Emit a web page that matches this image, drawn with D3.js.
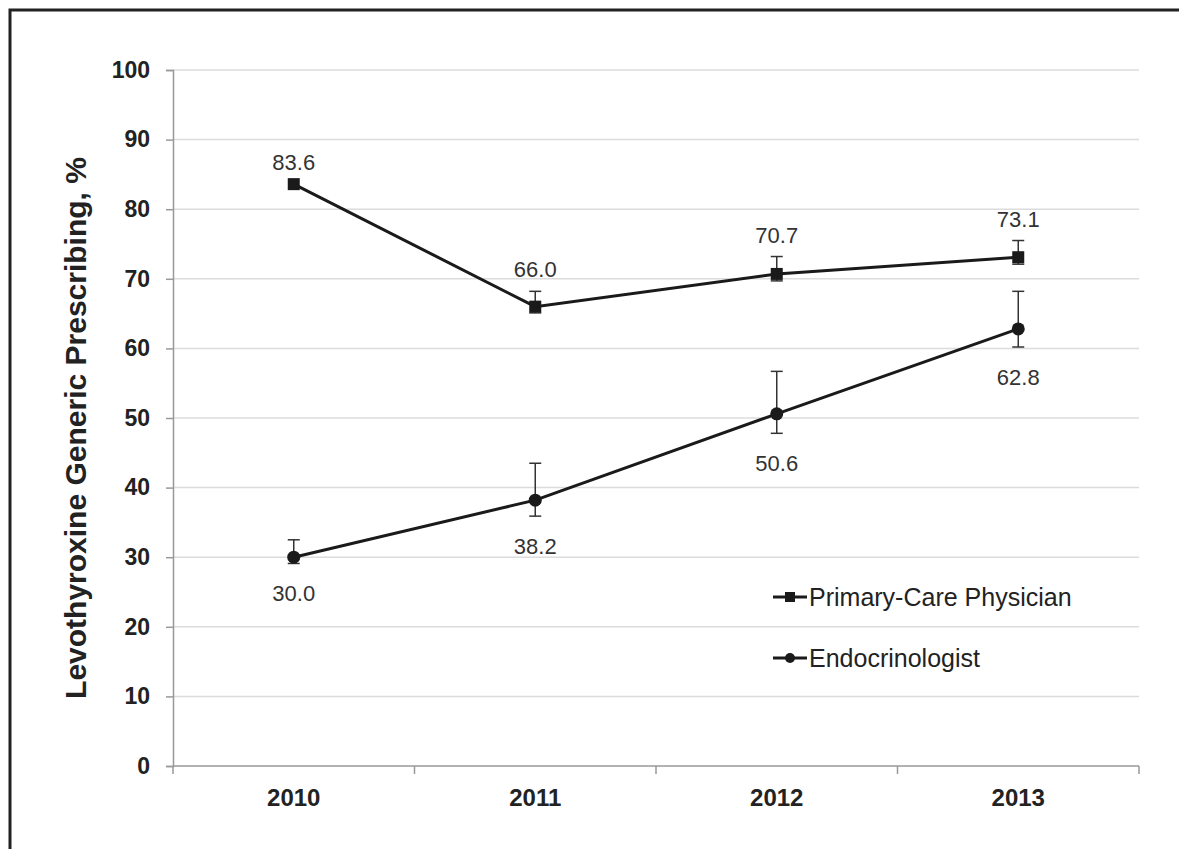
<!DOCTYPE html>
<html>
<head>
<meta charset="utf-8">
<script src="https://cdn.jsdelivr.net/npm/d3@7"></script>
<style>
  html, body { margin: 0; padding: 0; background: #fff; }
  svg { display: block; font-family: "Liberation Sans", Arial, sans-serif; }
</style>
</head>
<body>
<svg id="chart" width="1179" height="849"></svg>
<script>
// Levothyroxine generic prescribing by specialty, 2010-2013
const years = ["2010", "2011", "2012", "2013"];
const seriesNames = ["Primary-Care Physician", "Endocrinologist"];

const pcpValues = [83.6, 66.0, 70.7, 73.1];
const pcpLower  = [83.6, 65.1, 69.7, 72.1];
const pcpUpper  = [83.6, 68.2, 73.2, 75.5];

const endoValues = [30.0, 38.2, 50.6, 62.8];
const endoLower  = [29.1, 35.9, 47.8, 60.2];
const endoUpper  = [32.5, 43.5, 56.7, 68.2];

const yTicks = [0, 10, 20, 30, 40, 50, 60, 70, 80, 90, 100];

const svg = d3.select("#chart");
const W = 1179, H = 849;
const m = { left: 173, right: 1139, top: 70, bottom: 766 };

// outer frame (runs off the right and bottom edges)
svg.append("path")
  .attr("d", `M10,${H + 5} L10,10 L${W + 5},10`)
  .attr("fill", "none").attr("stroke", "#222").attr("stroke-width", 3);

const x = d3.scaleBand().domain(years).range([m.left, m.right]);
const y = d3.scaleLinear().domain([0, 100]).range([m.bottom, m.top]);

// horizontal gridlines
svg.append("g").selectAll("line").data(yTicks.filter(d => d > 0)).join("line")
  .attr("x1", m.left).attr("x2", m.right)
  .attr("y1", d => y(d)).attr("y2", d => y(d))
  .attr("stroke", "#dcdcdc").attr("stroke-width", 1.5);

// y axis
const yAxis = svg.append("g")
  .attr("transform", `translate(${m.left},0)`)
  .call(d3.axisLeft(y).tickValues(yTicks).tickSize(7).tickPadding(16));
yAxis.select(".domain").attr("stroke", "#999").attr("stroke-width", 1.5);
yAxis.selectAll(".tick line").attr("stroke", "#999").attr("stroke-width", 1.5);
yAxis.selectAll(".tick text")
  .attr("font-size", 23).attr("font-weight", "bold").attr("fill", "#222")
  .attr("font-family", "Liberation Sans, Arial, sans-serif");

// x axis with ticks at category boundaries
const xAxis = svg.append("g").attr("transform", `translate(0,${m.bottom})`);
xAxis.append("line")
  .attr("x1", m.left).attr("x2", m.right).attr("y1", 0).attr("y2", 0)
  .attr("stroke", "#999").attr("stroke-width", 1.5);
const bounds = years.map(d => x(d)).concat([x(years[years.length - 1]) + x.bandwidth()]);
xAxis.selectAll("line.tk").data(bounds).join("line").attr("class", "tk")
  .attr("x1", d => d).attr("x2", d => d).attr("y1", 0).attr("y2", 8)
  .attr("stroke", "#999").attr("stroke-width", 1.5);
xAxis.selectAll("text").data(years).join("text")
  .attr("x", d => x(d) + x.bandwidth() / 2).attr("y", 40)
  .attr("text-anchor", "middle")
  .attr("font-size", 24).attr("font-weight", "bold").attr("fill", "#222")
  .text(d => d);

// y axis title
svg.append("text")
  .attr("transform", `translate(86,${428}) rotate(-90)`)
  .attr("text-anchor", "middle")
  .attr("font-size", 30).attr("font-weight", "bold").attr("fill", "#222")
  .text("Levothyroxine Generic Prescribing, %");

const cx = d => x(d) + x.bandwidth() / 2;
const line = d3.line().x(d => cx(d.year)).y(d => y(d.v));

function drawSeries(vals, lo, hi, shape, labelAbove) {
  const pts = years.map((yr, i) => ({ year: yr, v: vals[i], lo: lo[i], hi: hi[i] }));
  const g = svg.append("g");

  // error bars
  const eb = g.selectAll("g.eb").data(pts.filter(p => p.hi > p.lo)).join("g");
  eb.append("line")
    .attr("x1", p => cx(p.year)).attr("x2", p => cx(p.year))
    .attr("y1", p => y(p.hi)).attr("y2", p => y(p.lo))
    .attr("stroke", "#333").attr("stroke-width", 1.5);
  ["hi", "lo"].forEach(k => {
    eb.append("line")
      .attr("x1", p => cx(p.year) - 6).attr("x2", p => cx(p.year) + 6)
      .attr("y1", p => y(p[k])).attr("y2", p => y(p[k]))
      .attr("stroke", "#333").attr("stroke-width", 1.5);
  });

  g.append("path").datum(pts).attr("d", line)
    .attr("fill", "none").attr("stroke", "#1a1a1a").attr("stroke-width", 3);

  if (shape === "square") {
    g.selectAll("rect").data(pts).join("rect")
      .attr("x", p => cx(p.year) - 6).attr("y", p => y(p.v) - 6)
      .attr("width", 12).attr("height", 12).attr("fill", "#1a1a1a");
  } else {
    g.selectAll("circle").data(pts).join("circle")
      .attr("cx", p => cx(p.year)).attr("cy", p => y(p.v))
      .attr("r", 6.5).attr("fill", "#1a1a1a");
  }

  // value labels
  g.selectAll("text").data(pts).join("text")
    .attr("x", p => cx(p.year))
    .attr("y", p => labelAbove ? y(p.hi) - 14 : y(p.lo) + 38)
    .attr("text-anchor", "middle")
    .attr("font-size", 22).attr("fill", "#333")
    .text(p => p.v.toFixed(1));
}

drawSeries(pcpValues, pcpLower, pcpUpper, "square", true);
drawSeries(endoValues, endoLower, endoUpper, "circle", false);

// legend
const legend = svg.append("g");
const legendRows = [
  { name: seriesNames[0], shape: "square", yy: 597 },
  { name: seriesNames[1], shape: "circle", yy: 658 }
];
legendRows.forEach(r => {
  legend.append("line")
    .attr("x1", 773).attr("x2", 807).attr("y1", r.yy).attr("y2", r.yy)
    .attr("stroke", "#1a1a1a").attr("stroke-width", 3);
  if (r.shape === "square") {
    legend.append("rect").attr("x", 785).attr("y", r.yy - 5)
      .attr("width", 10).attr("height", 10).attr("fill", "#1a1a1a");
  } else {
    legend.append("circle").attr("cx", 790).attr("cy", r.yy).attr("r", 5)
      .attr("fill", "#1a1a1a");
  }
  legend.append("text")
    .attr("x", 809).attr("y", r.yy + 9)
    .attr("font-size", 25).attr("fill", "#222")
    .text(r.name);
});
</script>
</body>
</html>
